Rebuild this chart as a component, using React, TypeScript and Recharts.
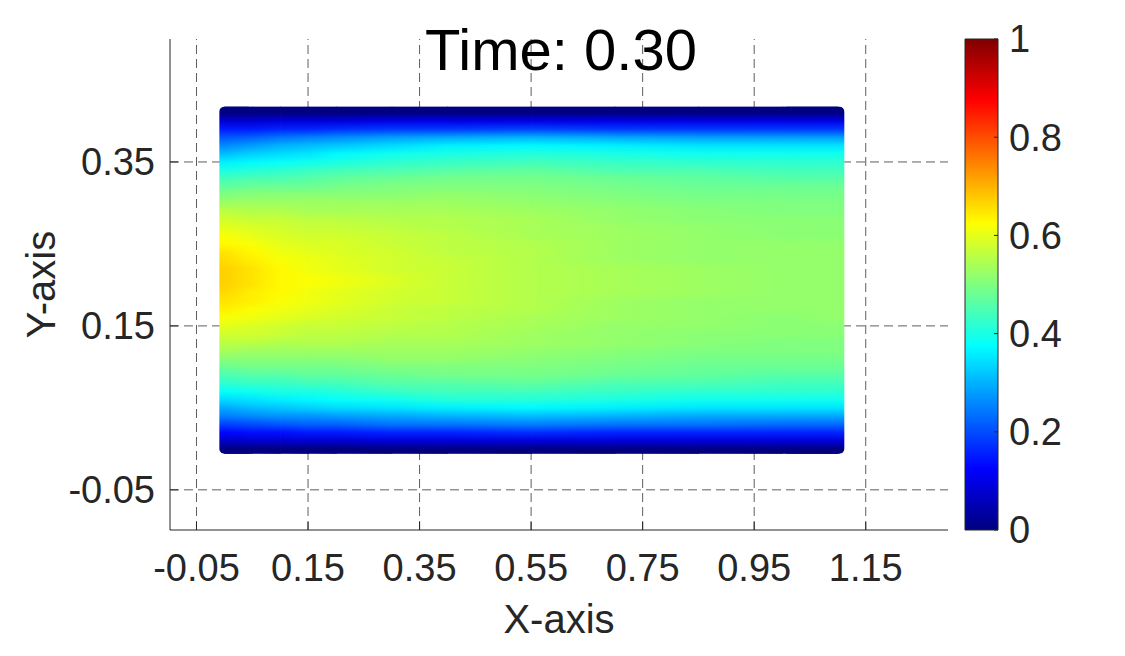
import { ComposedChart, XAxis, YAxis, ReferenceArea, ReferenceLine } from 'recharts'

const FONT = '"Liberation Sans", Arial, Helvetica, sans-serif'
const AXIS_COLOR = '#262626'
const GRID_COLOR = '#5e5e5e'

// axis ticks
const xTicks = [-0.05, 0.15, 0.35, 0.55, 0.75, 0.95, 1.15]
const yTicks = [-0.05, 0.15, 0.35]
const barTicks = [0, 0.2, 0.4, 0.6, 0.8, 1]
const xDomain = [-0.0975, 1.2975]
const yDomain = [-0.099, 0.5]

// where the field was sampled (channel 0..1.1 by 0..0.41)
const stationX = [0, 0.05, 0.1, 0.15, 0.2, 0.3, 0.4, 0.55, 0.7, 0.85, 1.0, 1.1]
const rowY = [
  0, 0.01, 0.02, 0.03, 0.04, 0.05, 0.06, 0.07, 0.08, 0.09, 0.1, 0.11, 0.12, 0.13,
  0.14, 0.15, 0.16, 0.17, 0.18, 0.19, 0.2, 0.21, 0.22, 0.23, 0.24, 0.25, 0.26, 0.27,
  0.28, 0.29, 0.3, 0.31, 0.32, 0.33, 0.34, 0.35, 0.36, 0.37, 0.38, 0.39, 0.4, 0.41,
]

// value profiles along y (bottom wall -> top wall), one per station
const u000 = [0, .07, .13, .19, .25, .29, .34, .38, .42, .45, .48, .51, .54, .56, .58, .60, .62, .64, .65, .66, .67,
  .67, .67, .66, .65, .63, .62, .60, .58, .56, .53, .50, .47, .44, .40, .36, .31, .26, .21, .15, .08, 0]
const u005 = [0, .08, .14, .20, .26, .31, .35, .39, .43, .46, .49, .51, .53, .56, .58, .59, .61, .62, .64, .64, .65,
  .65, .65, .64, .63, .62, .60, .59, .57, .55, .53, .51, .48, .45, .41, .37, .33, .28, .22, .15, .08, 0]
const u010 = [0, .08, .14, .21, .27, .32, .36, .40, .43, .46, .49, .51, .53, .55, .57, .58, .60, .61, .62, .63, .63,
  .63, .63, .62, .61, .60, .59, .58, .57, .55, .53, .51, .48, .45, .42, .38, .34, .30, .24, .16, .09, 0]
const u015 = [0, .08, .15, .22, .27, .33, .37, .40, .44, .47, .49, .51, .53, .55, .56, .57, .59, .60, .61, .61, .62,
  .62, .61, .61, .60, .59, .58, .57, .56, .54, .53, .51, .48, .46, .43, .39, .35, .31, .25, .16, .09, 0]
const u020 = [0, .08, .15, .22, .28, .34, .38, .41, .44, .47, .49, .51, .53, .55, .56, .57, .58, .59, .60, .60, .61,
  .61, .60, .60, .59, .59, .58, .57, .56, .54, .53, .51, .49, .47, .44, .40, .37, .32, .26, .17, .09, 0]
const u030 = [0, .09, .16, .24, .29, .35, .39, .43, .46, .48, .50, .52, .53, .54, .55, .56, .57, .57, .58, .58, .59,
  .59, .58, .58, .58, .57, .57, .56, .55, .54, .53, .51, .50, .48, .45, .42, .39, .34, .28, .18, .10, 0]
const u040 = [0, .09, .16, .24, .30, .36, .41, .44, .46, .49, .50, .52, .53, .54, .55, .55, .56, .56, .57, .57, .57,
  .57, .57, .57, .56, .56, .56, .55, .55, .54, .53, .52, .50, .49, .46, .43, .40, .36, .29, .18, .10, 0]
const u055 = [0, .09, .17, .25, .31, .37, .41, .44, .47, .49, .50, .51, .52, .53, .53, .54, .54, .55, .55, .55, .55,
  .55, .55, .55, .55, .55, .54, .54, .54, .53, .52, .51, .50, .49, .47, .44, .41, .37, .30, .19, .10, 0]
const u070 = [0, .09, .16, .24, .30, .36, .40, .43, .45, .48, .49, .50, .51, .52, .52, .52, .53, .53, .53, .54, .54,
  .54, .54, .53, .53, .53, .53, .53, .52, .52, .51, .50, .49, .48, .45, .43, .40, .36, .29, .18, .10, 0]
const u085 = [0, .09, .16, .24, .29, .35, .39, .42, .45, .47, .48, .49, .50, .51, .51, .52, .52, .52, .52, .53, .53,
  .53, .53, .52, .52, .52, .52, .52, .51, .51, .50, .49, .48, .47, .45, .42, .39, .35, .28, .18, .10, 0]
const u100 = [0, .09, .16, .23, .29, .35, .39, .42, .44, .46, .48, .49, .50, .50, .51, .51, .51, .52, .52, .52, .52,
  .52, .52, .52, .52, .52, .51, .51, .51, .50, .50, .49, .48, .46, .44, .42, .39, .35, .28, .18, .10, 0]
const u110 = [0, .09, .16, .23, .29, .35, .39, .42, .44, .46, .48, .49, .50, .50, .51, .51, .52, .52, .52, .52, .52,
  .52, .52, .52, .52, .52, .51, .51, .51, .50, .50, .49, .48, .46, .44, .42, .39, .35, .28, .18, .10, 0]

const profiles = [u000, u005, u010, u015, u020, u030, u040, u055, u070, u085, u100, u110]

// jet colormap control points (for the colorbar)
const jetStops = [
  { at: 0, color: '#000080' },
  { at: 0.125, color: '#0000ff' },
  { at: 0.375, color: '#00ffff' },
  { at: 0.625, color: '#ffff00' },
  { at: 0.875, color: '#ff0000' },
  { at: 1, color: '#800000' },
]

const jet = (v: number) => {
  const c = (t: number) => Math.round(255 * Math.max(0, Math.min(1, 1.5 - Math.abs(4 * v - t))))
  return `rgb(${c(3)},${c(2)},${c(1)})`
}

// the scatter markers spill a little past the outermost samples
const yLo = rowY[0] - 0.006
const yHi = rowY[rowY.length - 1] + 0.0075
const last = stationX.length - 1

// end caps first (rounded, like the marker edges), then strips between neighbouring
// stations where the right station fades in across each strip
const strips = [
  { key: 'pad-l', x1: stationX[0] - 0.009, x2: stationX[1], base: 0, blend: -1, round: true },
  { key: 'pad-r', x1: stationX[last - 1], x2: stationX[last] + 0.0105, base: last, blend: -1, round: true },
  ...stationX.slice(0, -1).map((x, i) => ({
    key: `s${i}`, x1: x, x2: stationX[i + 1], base: i, blend: i + 1, round: false,
  })),
]

const fmt = (v: number) => v.toFixed(2)
const tickStyle = { fill: AXIS_COLOR, fontSize: 38, fontFamily: FONT }
const chartMargin = { top: 39, right: 12, bottom: 0, left: 0 }

const XLabel = ({ viewBox }: any) => (
  <text x={viewBox.x + viewBox.width / 2} y={viewBox.y + 103} textAnchor="middle"
    fill={AXIS_COLOR} fontSize={40} fontFamily={FONT}>X-axis</text>
)

const YLabel = ({ viewBox }: any) => {
  const cx = viewBox.x + 55
  const cy = viewBox.y + viewBox.height / 2
  return (
    <text x={cx} y={cy} transform={`rotate(-90, ${cx}, ${cy})`} textAnchor="middle"
      fill={AXIS_COLOR} fontSize={40} fontFamily={FONT}>Y-axis</text>
  )
}

const stripShape = (base: number, blend: number, round: boolean) => (p: any) => (
  <g>
    <rect x={p.x} y={p.y} width={p.width + 0.6} height={p.height} rx={round ? 5 : 0} fill={`url(#st${base})`} />
    {blend >= 0 && (
      <rect x={p.x} y={p.y} width={p.width + 0.6} height={p.height} fill={`url(#st${blend})`} mask="url(#fadeMask)" />
    )}
  </g>
)

// the dashed grid sits in its own chart underneath, so the field covers it
function GridLayer() {
  return (
    <ComposedChart width={960} height={656} margin={chartMargin}>
      <XAxis type="number" dataKey="x" domain={xDomain} allowDataOverflow height={126} tick={false} tickLine={false} axisLine={false} />
      <YAxis type="number" dataKey="y" domain={yDomain} allowDataOverflow width={170} tick={false} tickLine={false} axisLine={false} />
      {xTicks.map((t) => (
        <ReferenceLine key={`gx${t}`} x={t} stroke={GRID_COLOR} strokeWidth={1} strokeDasharray="9 5" />
      ))}
      {yTicks.map((t) => (
        <ReferenceLine key={`gy${t}`} y={t} stroke={GRID_COLOR} strokeWidth={1} strokeDasharray="9 5" />
      ))}
    </ComposedChart>
  )
}

function FieldLayer() {
  return (
    <ComposedChart width={960} height={656} margin={chartMargin}>
      <defs>
        {profiles.map((p, i) => (
          <linearGradient key={i} id={`st${i}`} x1="0" y1="1" x2="0" y2="0">
            {rowY.map((y, j) => (
              <stop key={j} offset={(y - yLo) / (yHi - yLo)} stopColor={jet(p[j])} />
            ))}
          </linearGradient>
        ))}
        <linearGradient id="fadeIn" x1="0" y1="0" x2="1" y2="0">
          <stop offset={0} stopColor="#fff" stopOpacity={0} />
          <stop offset={1} stopColor="#fff" stopOpacity={1} />
        </linearGradient>
        <mask id="fadeMask" maskContentUnits="objectBoundingBox" x="0" y="0" width="1" height="1">
          <rect x={0} y={0} width={1} height={1} fill="url(#fadeIn)" />
        </mask>
      </defs>
      <XAxis
        type="number"
        dataKey="x"
        domain={xDomain}
        ticks={xTicks}
        interval={0}
        allowDataOverflow
        height={126}
        tickSize={-8}
        tickMargin={32}
        tickFormatter={fmt}
        tick={tickStyle}
        stroke={AXIS_COLOR}
        label={{ content: XLabel }}
      />
      <YAxis
        type="number"
        dataKey="y"
        domain={yDomain}
        ticks={yTicks}
        interval={0}
        allowDataOverflow
        width={170}
        tickSize={-8}
        tickMargin={23}
        tickFormatter={fmt}
        tick={tickStyle}
        stroke={AXIS_COLOR}
        label={{ content: YLabel }}
      />
      {strips.map((s) => (
        <ReferenceArea
          key={s.key}
          x1={s.x1}
          x2={s.x2}
          y1={yLo}
          y2={yHi}
          fillOpacity={1}
          shape={stripShape(s.base, s.blend, s.round)}
        />
      ))}
    </ComposedChart>
  )
}

function Colorbar() {
  return (
    <ComposedChart width={175} height={656} margin={{ top: 39, right: 0, bottom: 126, left: 15 }}>
      <defs>
        <linearGradient id="jetBar" x1="0" y1="1" x2="0" y2="0">
          {jetStops.map((s) => (
            <stop key={s.at} offset={s.at} stopColor={s.color} />
          ))}
        </linearGradient>
      </defs>
      <XAxis type="number" dataKey="x" domain={[0, 1]} allowDataOverflow hide />
      <YAxis
        type="number"
        dataKey="y"
        orientation="right"
        domain={[0, 1]}
        allowDataOverflow
        ticks={barTicks}
        interval={0}
        width={127}
        tickSize={-4}
        tickMargin={15}
        axisLine={false}
        tickLine={{ stroke: AXIS_COLOR }}
        tick={tickStyle}
        tickFormatter={(v: number) => String(v)}
      />
      <ReferenceArea x1={0} x2={1} y1={0} y2={1} fill="url(#jetBar)" fillOpacity={1} stroke={AXIS_COLOR} strokeWidth={1} />
    </ComposedChart>
  )
}

export default function App() {
  return (
    <div style={{ position: 'absolute', left: 0, top: 0, width: 1125, height: 656, background: '#fff', fontFamily: FONT }}>
      <div style={{ position: 'absolute', left: 0, top: 0 }}>
        <GridLayer />
      </div>
      <div style={{ position: 'absolute', left: 0, top: 0 }}>
        <FieldLayer />
      </div>
      <div style={{ position: 'absolute', left: 950, top: 0 }}>
        <Colorbar />
      </div>
      <div style={{ position: 'absolute', left: 0, top: 21, width: 1122, textAlign: 'center', fontSize: 58, lineHeight: '58px', color: '#000' }}>
        Time: 0.30
      </div>
    </div>
  )
}
